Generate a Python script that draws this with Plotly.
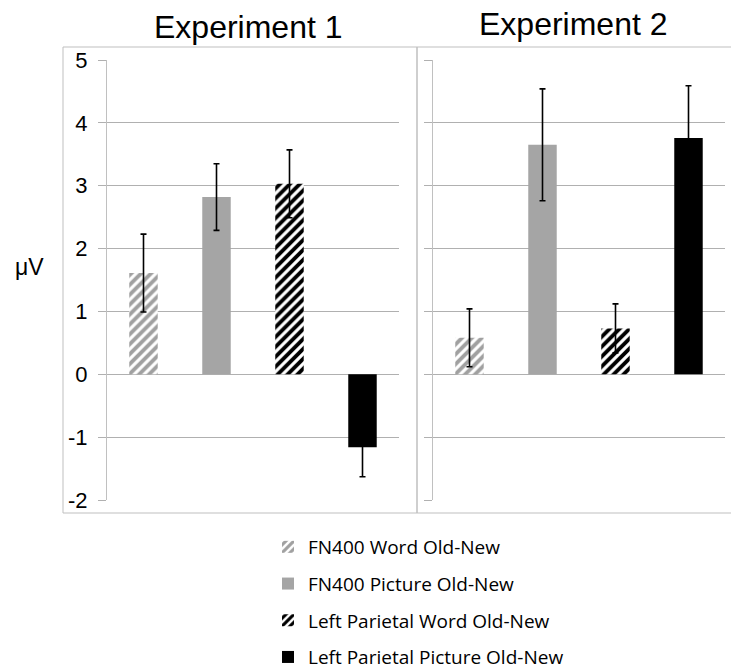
import plotly.graph_objects as go

W, H = 731, 671

series = ["FN400 Word Old-New", "FN400 Picture Old-New",
          "Left Parietal Word Old-New", "Left Parietal Picture Old-New"]
exp1_values = [1.61, 2.82, 3.03, -1.16]
exp1_errors = [0.62, 0.53, 0.54, 0.47]
exp2_values = [0.58, 3.65, 0.73, 3.76]
exp2_errors = [0.46, 0.89, 0.39, 0.83]
panel_titles = ["Experiment 1", "Experiment 2"]
y_ticks = [-2, -1, 0, 1, 2, 3, 4, 5]
y_tick_labels = ["-2", "-1", "0", "1", "2", "3", "4", "5"]
y_label = "μV"

styles = [
    dict(color="white", pattern=dict(shape="/", bgcolor="white", fgcolor="#a0a0a0", fgopacity=1,
                                     size=7, solidity=0.55)),
    dict(color="#a5a5a5"),
    dict(color="white", pattern=dict(shape="/", bgcolor="white", fgcolor="#000000", fgopacity=1,
                                     size=7, solidity=0.55)),
    dict(color="#000000"),
]

def px_x(v):
    return v / W

def px_y(v):
    return (H - v) / H

fig = go.Figure()

for p, (vals, errs) in enumerate([(exp1_values, exp1_errors), (exp2_values, exp2_errors)]):
    for i, name in enumerate(series):
        fig.add_trace(go.Bar(
            x=[i], y=[vals[i]], name=name,
            marker=dict(line=dict(width=0), **styles[i]),
            width=0.39,
            error_y=dict(type="data", array=[errs[i]], color="black", thickness=1.6, width=3),
            xaxis="x" if p == 0 else "x2", yaxis="y" if p == 0 else "y2",
            showlegend=(p == 0), legendgroup=name,
        ))

ydom = [px_y(500), px_y(60)]
common_y = dict(range=[-2, 5], tickvals=y_ticks, ticktext=y_tick_labels,
                showgrid=True, gridcolor="#b0b0b0", gridwidth=1,
                zeroline=False, showline=True, linecolor="#c0c0c0", linewidth=1,
                ticks="outside", ticklen=8, tickcolor="#b0b0b0", automargin=False,
                tickfont=dict(family="Liberation Sans, Arial", size=22, color="black"),
                ticklabelstandoff=6)
common_x = dict(range=[-0.5, 3.5], showticklabels=False, showgrid=False, zeroline=False,
                showline=False, ticks="", fixedrange=True, automargin=False)

fig.update_layout(
    width=W, height=H,
    margin=dict(l=0, r=0, t=0, b=0, autoexpand=False),
    paper_bgcolor="white", plot_bgcolor="white",
    barmode="overlay",
    xaxis=dict(domain=[px_x(107), px_x(399)], anchor="y", **common_x),
    xaxis2=dict(domain=[px_x(433), px_x(725)], anchor="y2", **common_x),
    yaxis=dict(domain=ydom, anchor="x", **common_y),
    yaxis2=dict(domain=ydom, anchor="x2", **{**common_y, "showticklabels": False}),
    legend=dict(x=px_x(268), y=px_y(528), xanchor="left", yanchor="top",
                font=dict(family="Open Sans", size=19, color="black"),
                tracegroupgap=9, bgcolor="rgba(0,0,0,0)"),
    shapes=[
        dict(type="rect", xref="paper", yref="paper", x0=px_x(63), x1=px_x(417), y0=px_y(513), y1=px_y(47),
             line=dict(color="#bfbfbf", width=1)),
        dict(type="rect", xref="paper", yref="paper", x0=px_x(417), x1=1.01, y0=px_y(513), y1=px_y(47),
             line=dict(color="#bfbfbf", width=1)),
    ],
    annotations=[
        dict(text=panel_titles[0], x=px_x(248), y=px_y(27), xref="paper", yref="paper",
             xanchor="center", yanchor="middle",
             showarrow=False, font=dict(family="Liberation Sans, Arial", size=32, color="black")),
        dict(text=panel_titles[1], x=px_x(573), y=px_y(24), xref="paper", yref="paper",
             xanchor="center", yanchor="middle",
             showarrow=False, font=dict(family="Liberation Sans, Arial", size=32, color="black")),
        dict(text=y_label, x=px_x(29), y=px_y(267), xref="paper", yref="paper",
             xanchor="center", yanchor="middle",
             showarrow=False, font=dict(family="Liberation Sans, Arial", size=23, color="black")),
    ],
)

fig.write_html("out.html")
